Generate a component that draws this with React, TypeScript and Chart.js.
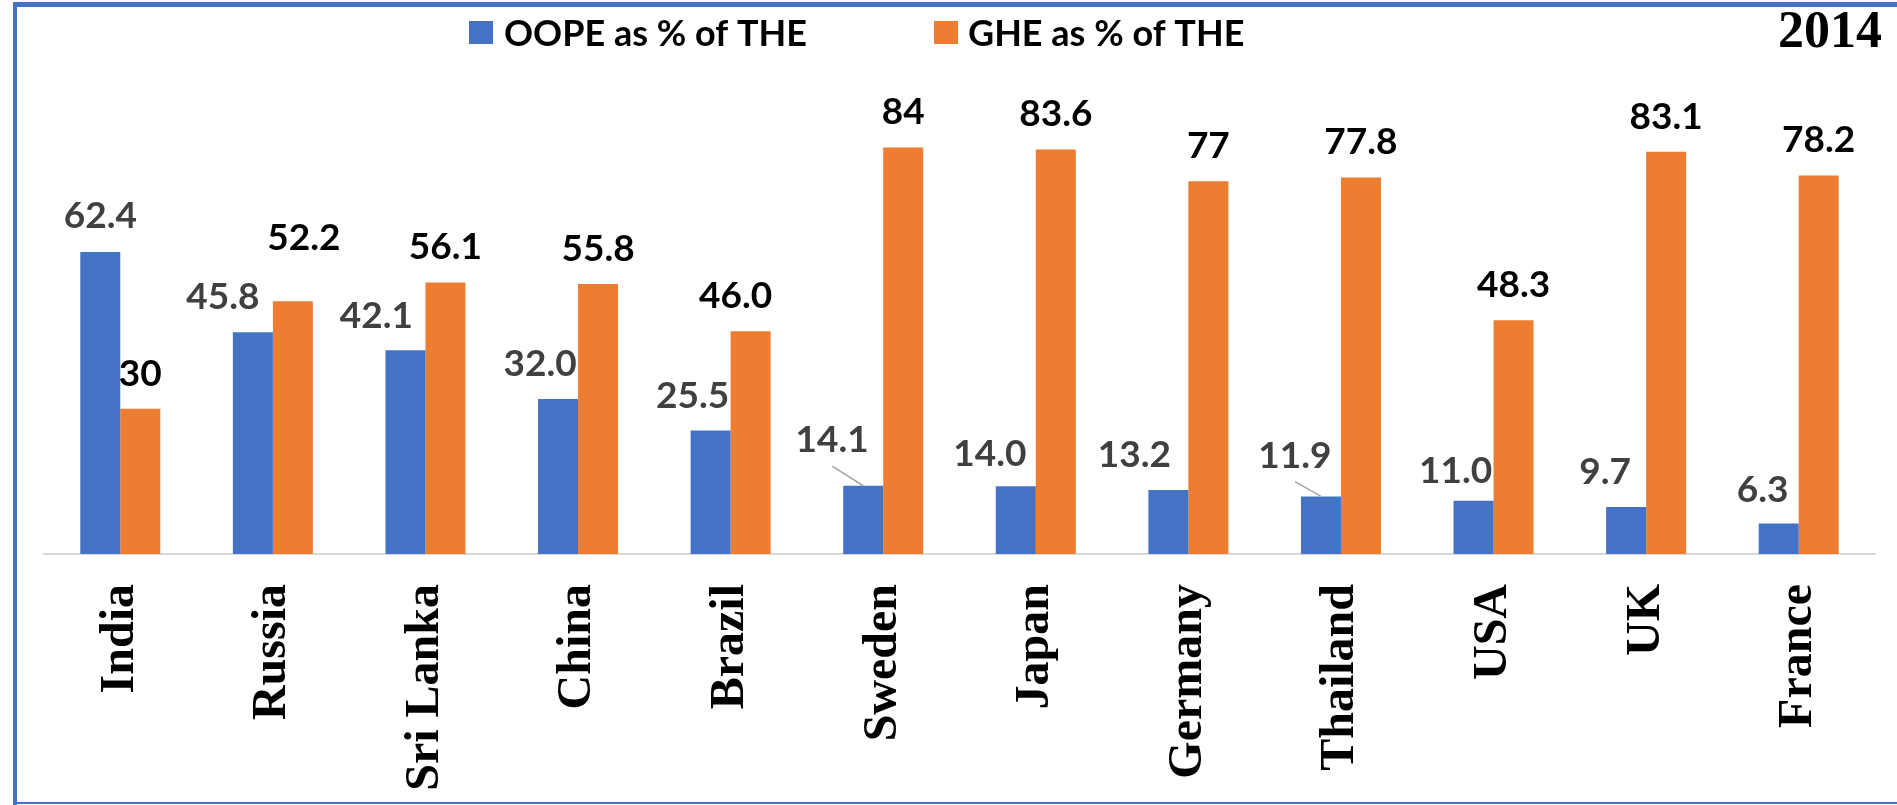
import React, { useEffect, useRef } from 'react';
import { Chart, registerables } from 'chart.js';

Chart.register(...registerables);

// ---- data ----
const countries = ['India', 'Russia', 'Sri Lanka', 'China', 'Brazil', 'Sweden', 'Japan', 'Germany', 'Thailand', 'USA', 'UK', 'France'];
const oopeValues = [62.4, 45.8, 42.1, 32.0, 25.5, 14.1, 14.0, 13.2, 11.9, 11.0, 9.7, 6.3];
const gheValues = [30, 52.2, 56.1, 55.8, 46.0, 84, 83.6, 77, 77.8, 48.3, 83.1, 78.2];
const oopeLabelTexts = ['62.4', '45.8', '42.1', '32.0', '25.5', '14.1', '14.0', '13.2', '11.9', '11.0', '9.7', '6.3'];
const gheLabelTexts = ['30', '52.2', '56.1', '55.8', '46.0', '84', '83.6', '77', '77.8', '48.3', '83.1', '78.2'];
const seriesNames = ['OOPE as % of THE', 'GHE as % of THE'];
const yearLabel = '2014';

// ---- label placement (offset of label centre from bar top-centre) ----
const oopeLabelShift = [[0, -37], [-30, -37], [-29, -36], [-18, -36], [-18, -36], [-31, -47], [-26, -34], [-34, -36], [-26, -42], [-18, -31], [-21, -36], [-16, -35]];
const gheLabelShift = [[0, -36.5], [11, -65], [0, -36.5], [0, -36.5], [-15, -36.5], [0, -36.5], [0, -36.5], [0, -36.5], [0, -36.5], [0, -36.5], [0, -36.5], [0, -36.5]];
const oopeLeader = [false, false, false, false, false, true, false, false, true, false, false, false];

const BLUE = '#4472C4';
const ORANGE = '#ED7D31';
const LABEL_FONT = 'bold 37px Lato, "Open Sans", sans-serif';
const CAP_HALF = 13.3;

const decorPlugin = {
  id: 'decor',
  afterDatasetsDraw(chart: any) {
    const ctx = chart.ctx;
    ctx.save();
    ctx.font = LABEL_FONT;
    ctx.textAlign = 'center';
    ctx.textBaseline = 'alphabetic';
    const m0 = chart.getDatasetMeta(0);
    const m1 = chart.getDatasetMeta(1);
    m0.data.forEach((bar: any, i: number) => {
      const [dx, dy] = oopeLabelShift[i];
      const cx = bar.x + dx;
      const cy = bar.y + dy;
      ctx.fillStyle = '#404040';
      ctx.fillText(oopeLabelTexts[i], cx, cy + CAP_HALF);
      if (oopeLeader[i]) {
        ctx.strokeStyle = '#a6a6a6';
        ctx.lineWidth = 1.5;
        ctx.beginPath();
        ctx.moveTo(cx, cy + CAP_HALF + 14);
        ctx.lineTo(bar.x, bar.y);
        ctx.stroke();
      }
    });
    m1.data.forEach((bar: any, i: number) => {
      const [dx, dy] = gheLabelShift[i];
      ctx.fillStyle = '#000000';
      ctx.fillText(gheLabelTexts[i], bar.x + dx, bar.y + dy + CAP_HALF);
    });
    ctx.restore();
  },
  afterDraw(chart: any) {
    const ctx = chart.ctx;
    ctx.save();
    // legend
    const colors = [BLUE, ORANGE];
    const boxX = [469, 934];
    const textX = [504, 968];
    ctx.font = 'bold 36px Lato, "Open Sans", sans-serif';
    ctx.textAlign = 'left';
    ctx.textBaseline = 'alphabetic';
    for (let k = 0; k < 2; k++) {
      ctx.fillStyle = colors[k];
      ctx.fillRect(boxX[k], 21, 24, 23);
      ctx.fillStyle = '#000000';
      ctx.fillText(chart.data.datasets[k].label, textX[k], 46);
    }
    // year
    ctx.font = 'bold 52px "Liberation Serif", serif';
    ctx.textAlign = 'right';
    ctx.fillStyle = '#000000';
    ctx.fillText(yearLabel, 1882, 47);
    // frame
    ctx.fillStyle = BLUE;
    ctx.fillRect(13, 2, 1884, 5);
    ctx.fillRect(13, 2, 4, 803);
    ctx.fillRect(13, 802, 1884, 2);
    ctx.restore();
  },
};

export default function App() {
  const ref = useRef<HTMLCanvasElement>(null);
  useEffect(() => {
    document.body.style.margin = '0';
    const chart = new Chart(ref.current as HTMLCanvasElement, {
      type: 'bar',
      data: {
        labels: countries,
        datasets: [
          { label: seriesNames[0], data: oopeValues, backgroundColor: BLUE, borderWidth: 0 },
          { label: seriesNames[1], data: gheValues, backgroundColor: ORANGE, borderWidth: 0 },
        ],
      },
      options: {
        responsive: false,
        animation: false,
        devicePixelRatio: 1,
        layout: { padding: { left: 44, right: 22, top: 70, bottom: 0 } },
        datasets: { bar: { categoryPercentage: 0.5243, barPercentage: 1 } } as any,
        plugins: { legend: { display: false }, tooltip: { enabled: false }, title: { display: false } },
        scales: {
          x: {
            grid: { display: false, drawTicks: false },
            border: { display: true, color: '#d9d9d9', width: 2 },
            ticks: {
              autoSkip: false,
              maxRotation: 90,
              minRotation: 90,
              padding: 30,
              color: '#000000',
              font: { family: '"Liberation Serif", serif', size: 48, weight: 'bold' },
            },
            afterFit: (s: any) => { s.height = 251; },
          },
          y: { display: false, min: 0, max: 100 },
        },
      },
      plugins: [decorPlugin],
    });
    let alive = true;
    const fonts: any = (document as any).fonts;
    if (fonts) {
      Promise.all([
        fonts.load('bold 37px Lato'),
        fonts.load('bold 48px "Liberation Serif"'),
      ]).then(() => { if (alive) chart.update(); }).catch(() => {});
    }
    return () => { alive = false; chart.destroy(); };
  }, []);
  return (
    <div style={{ width: 1897, height: 805 }}>
      <canvas ref={ref} width={1897} height={805} style={{ display: 'block' }} />
    </div>
  );
}
